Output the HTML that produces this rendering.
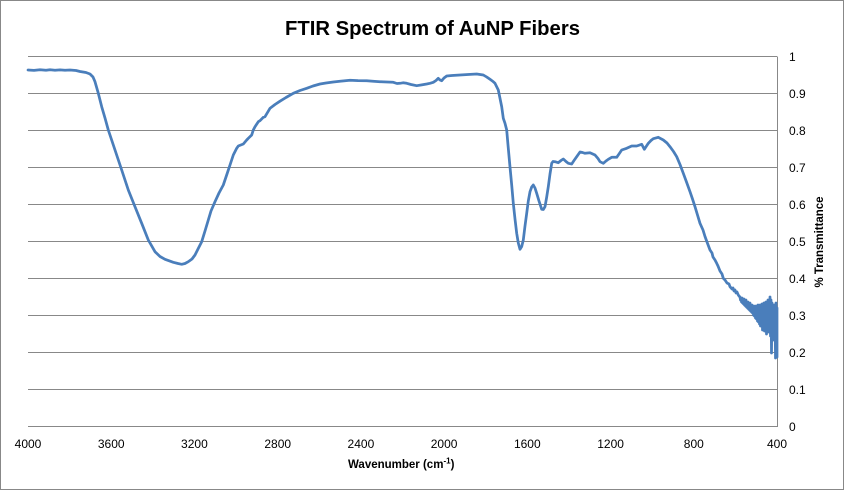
<!DOCTYPE html>
<html><head><meta charset="utf-8"><style>
html,body{margin:0;padding:0;background:#fff;}
svg{display:block;}
text{font-family:"Liberation Sans",Arial,sans-serif;fill:#000;}
</style></head><body>
<svg width="844" height="490" viewBox="0 0 844 490" xmlns="http://www.w3.org/2000/svg">
<rect x="0.5" y="0.5" width="843" height="489" fill="#fff" stroke="#888" stroke-width="1"/>
<text x="432.5" y="35" font-size="20" font-weight="bold" text-anchor="middle" textLength="295" lengthAdjust="spacingAndGlyphs">FTIR Spectrum of AuNP Fibers</text>
<g stroke="#888" stroke-width="1">
<line x1="28" y1="56.5" x2="777" y2="56.5"/>
<line x1="28" y1="93.5" x2="777" y2="93.5"/>
<line x1="28" y1="130.5" x2="777" y2="130.5"/>
<line x1="28" y1="167.5" x2="777" y2="167.5"/>
<line x1="28" y1="204.5" x2="777" y2="204.5"/>
<line x1="28" y1="241.5" x2="777" y2="241.5"/>
<line x1="28" y1="278.5" x2="777" y2="278.5"/>
<line x1="28" y1="315.5" x2="777" y2="315.5"/>
<line x1="28" y1="352.5" x2="777" y2="352.5"/>
<line x1="28" y1="389.5" x2="777" y2="389.5"/>
<line x1="28" y1="426.5" x2="777.5" y2="426.5"/>
<line x1="777.5" y1="56.5" x2="777.5" y2="427"/>
</g>
<g font-size="12">
<text x="789" y="61">1</text>
<text x="789" y="98">0.9</text>
<text x="789" y="135">0.8</text>
<text x="789" y="172">0.7</text>
<text x="789" y="209">0.6</text>
<text x="789" y="246">0.5</text>
<text x="789" y="283">0.4</text>
<text x="789" y="320">0.3</text>
<text x="789" y="357">0.2</text>
<text x="789" y="394">0.1</text>
<text x="789" y="431">0</text>
</g>
<g font-size="12" text-anchor="middle">
<text x="28" y="448">4000</text>
<text x="111.2" y="448">3600</text>
<text x="194.4" y="448">3200</text>
<text x="277.7" y="448">2800</text>
<text x="360.9" y="448">2400</text>
<text x="444.1" y="448">2000</text>
<text x="527.3" y="448">1600</text>
<text x="610.6" y="448">1200</text>
<text x="693.8" y="448">800</text>
<text x="777" y="448">400</text>
</g>
<text x="348" y="468" font-size="11.5" font-weight="bold">Wavenumber (cm<tspan font-size="8" dy="-4.5">-1</tspan><tspan dy="4.5">)</tspan></text>
<text transform="translate(823,242) rotate(-90)" x="0" y="0" font-size="12" font-weight="bold" text-anchor="middle" textLength="91" lengthAdjust="spacingAndGlyphs">% Transmittance</text>
<polyline fill="none" stroke="#4a7ebb" stroke-width="2.75" stroke-linejoin="round" stroke-linecap="round" points="
28,70 34,70.4 40,69.8 46,70.3 50,69.8 55,70.2 60,69.9 65,70.3 70,70 76,70.5 80,71.5 86,72.5 90,74 93,77 95,81.7 98.3,93.3 101.7,106.7 105,118 108.3,130 115,150 121.7,170 128.3,190 135,206.7 141.7,223.3 148.3,240 155,251.7 160,256.5 165,259.3 173.3,262.3 178,263.5 181.7,264.3 185,263.5 188.3,261.7 192,259 195,255 198,249 201.7,241.7 205,231 208.3,220 211,211 215,201.7 219,193 223.3,185 227,174 230,165 233.3,155 236.7,148.3 238.3,146 243.3,144 246.7,140 248.3,138.3 251.7,135 253.3,130 255,126.7 258.3,121.7 260,120.7 263.3,117.3 265,116.7 270,108.3 275,104.5 280,101.2 286,97.5 293.3,93.3 300,90.5 306.7,88.3 313,86 320,84 326,83 333.3,82 340,81.3 350,80.3 358,80.6 366.7,80.7 373,81.2 380,81.7 387,82 393.3,82.3 397,83.5 400,83.3 403,82.8 406.7,83.3 411,84.5 416.7,85.7 421,85 426.7,84 430,83.3 433.3,82.3 436,80.5 438.3,78.3 440,80 441.7,80.7 444,78 446.7,76 452,75.5 460,75 468,74.5 476.7,74 480,74.5 483.3,75 486.7,77 490,79.3 493.3,81.7 495,83.3 498.3,90 501.7,106.7 503.3,118.3 505,123.3 506.7,130 508,145 510,167 511.7,185 513.3,203.3 515,219 516.7,233.3 518.3,243 520,249.3 521.7,246.5 523.3,240 525,226 526.7,213.3 528.3,201 530,191.7 531.7,187 533.3,185 535,188 536.7,193.3 539,201 541.7,209.3 543.3,209.5 545,206.7 546.7,197 548.3,186.7 550,174 551.7,163.3 553,161.5 555,161.7 558.3,162.7 561,160.5 563.3,159 566,161.5 568.3,163.3 571.7,164 574,160.5 576.7,156.7 580,152 582.5,152.5 585,153.3 590,152.7 595,155 598,158.5 600,161.7 603.3,163.3 606,161 608.3,159.3 611.7,157.3 616.7,157.3 619,154 621.7,150 626.7,148.3 631.7,146 636.7,146 641.7,144.3 644.3,149.3 646.5,146 648.3,143.3 651,140.5 653.3,138.7 658.3,137.3 663.3,140 667,143 670,146.7 673.5,151.5 676.7,156.7 680,164.5 683.3,173.3 686.5,182 690,191.7 692.5,199 695,206.7 697.5,215 700,223.3 703,230 705,236.5 707,242 710,250 712,253 713,257 715,260 716.7,263.3 718,266 720,271 722,274 723.3,278.3 725,280 727,283 729,284 730,286.7 732,289 733,288 734,291 735,290 736,293 737,292 738.3,295 739,296 740,297 740.5,300 741,298 741.5,302 742,298 742.5,303 743,299 743.5,304 744,299 744.5,305 745,300 745.5,306 746,300 746.5,307 747,302 747.5,308 748,302 748.5,309 749,303 749.5,310 750,303 750.5,311 751,305 751.5,312 752,305 752.5,313 753,306 753.5,315 754,306 754.5,316 755,307 755.5,318 756,306 756.5,319 757,307 757.5,321 758,305 758.5,322 759,307 759.5,324 760,305 760.5,326 761,306 761.5,323 762,304 762.5,330 763,308 763.5,327 764,303 764.5,331 765,307 765.5,326 766,302 766.5,334 767,309 767.5,329 768,300 768.5,332 769,310 769.5,328 770,297 770.5,336 771,300 771.5,353 772,303 772.5,334 773,312 773.5,340 774,305 774.5,332 775,310 775.5,358 776,303 776.5,345 777,308 777,357"/>
</svg>
</body></html>
